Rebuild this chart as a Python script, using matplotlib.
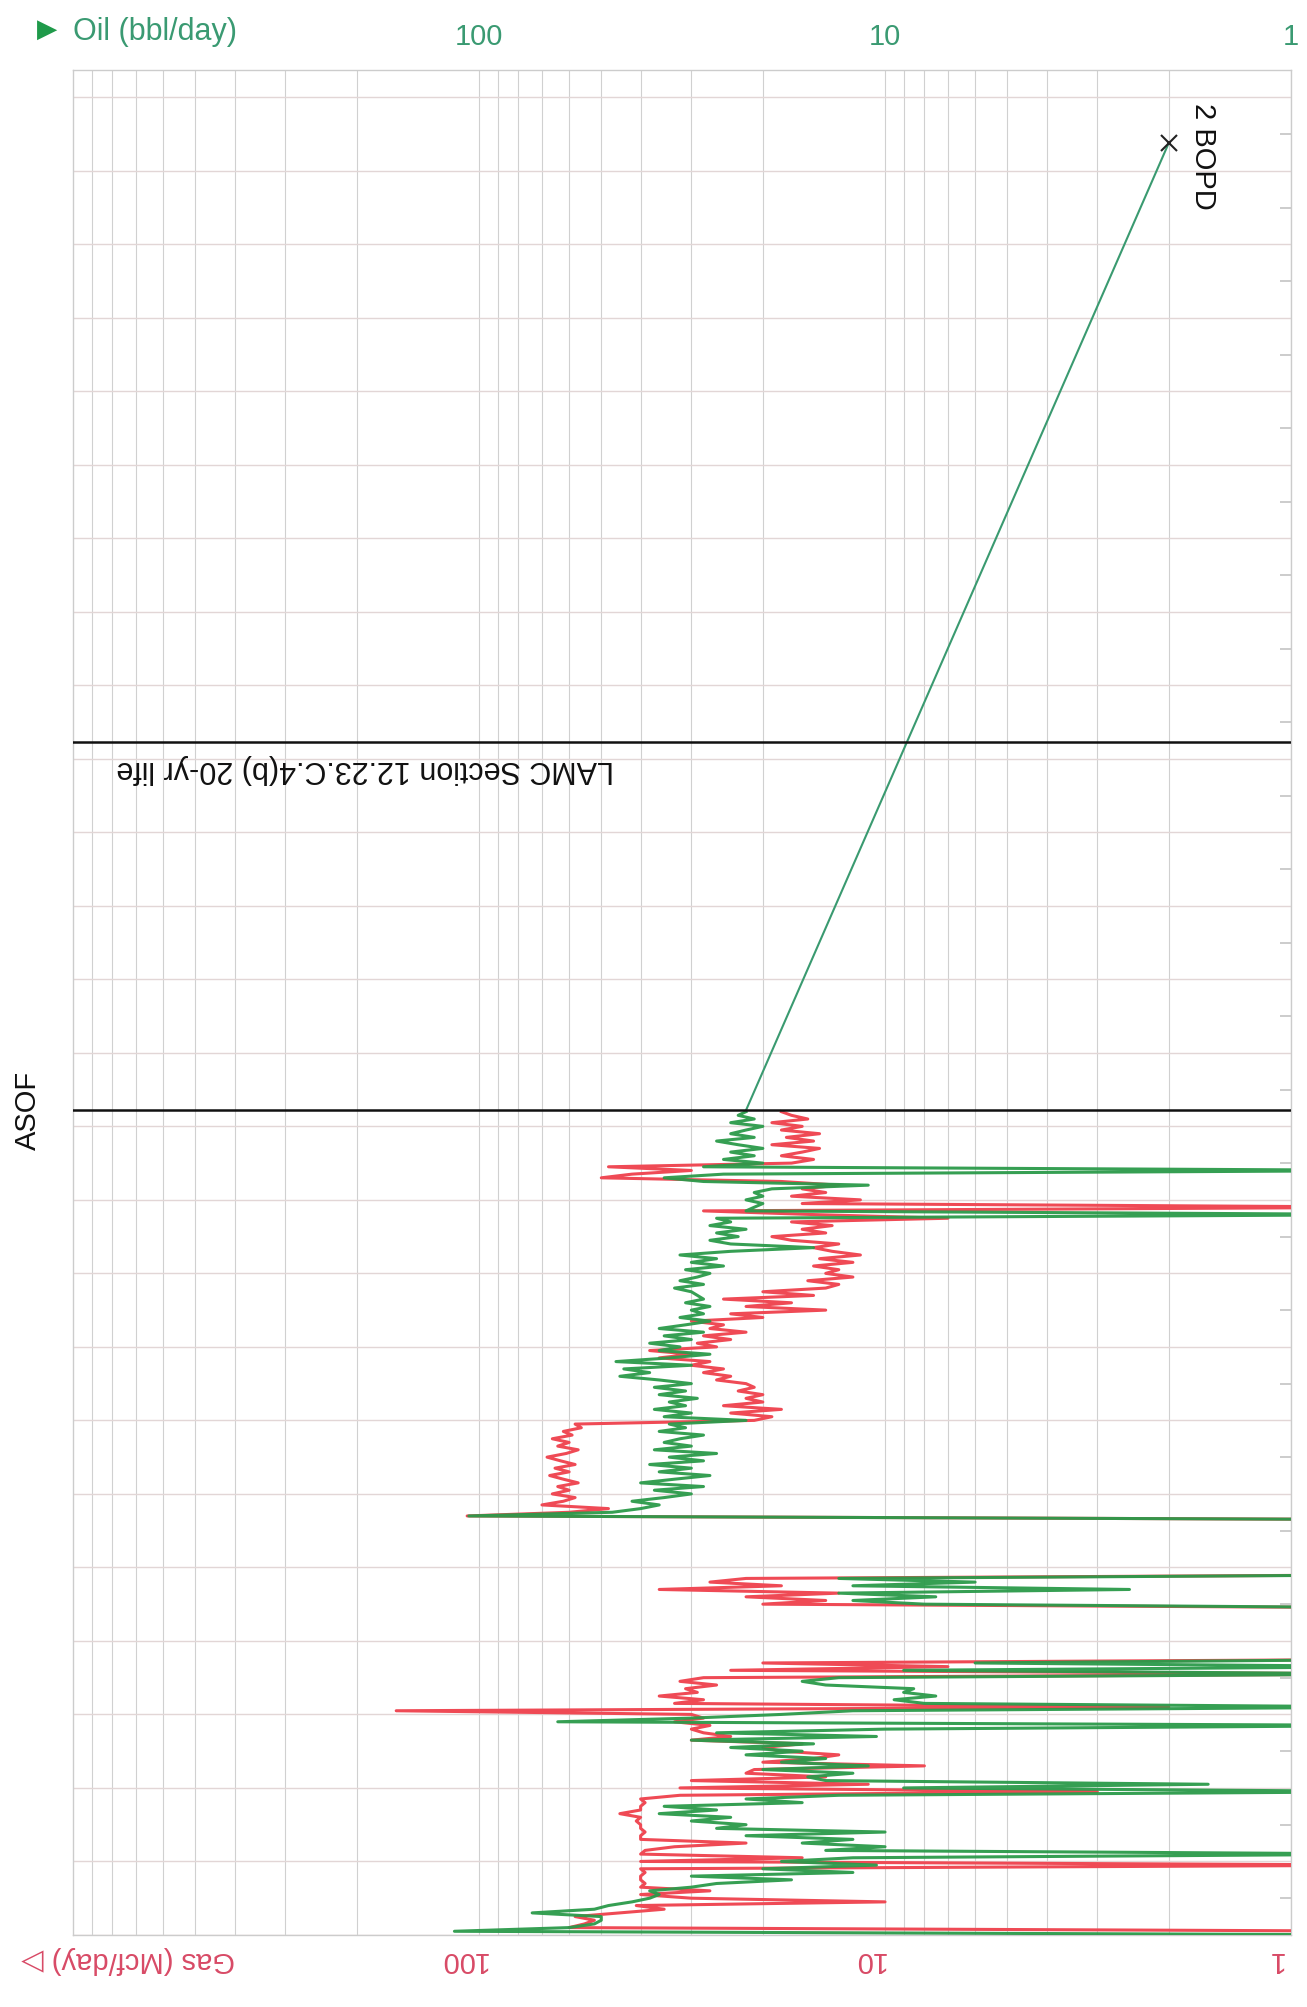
import numpy as np
import matplotlib.pyplot as plt
import matplotlib.transforms as mtransforms

# time in years from first production, sampled every 0.05 yr up to the ASOF date
t_hist = np.round(np.arange(0, 11.21, 0.05), 2)

# oil rate (bbl/day), 0 = shut in
oil_rate = [
    0, 115, 60, 52, 50, 50, 74, 52, 48, 42, 38, 36, 38, 30, 26, 17, 30, 12, 20, 10.5,
    18, 12, 0, 14, 10, 16, 12, 22, 10, 26, 22, 30, 24, 36, 26, 35, 16, 22, 13, 0,
    9, 1.6, 14, 15.5, 12, 20, 11, 18, 14, 22, 16, 24, 15, 30, 10.5, 26, 10, 0, 64, 30,
    18, 12, 0, 8, 9.5, 7.5, 9, 8.5, 14, 16, 13, 0, 9, 0, 6, 0, 0, 0, 0, 0,
    0, 0, 0, 0, 0, 0, 0, 0, 0, 0, 8, 12, 7.5, 13, 2.5, 12, 6, 13, 0, 0,
    0, 0, 0, 0, 0, 0, 0, 0, 0, 0, 0, 0, 0, 0, 106, 47, 40, 36, 42, 35,
    30, 37, 28, 40, 33, 27, 36, 30, 38, 28, 34, 26, 37, 30, 35, 32, 28, 36, 31, 34,
    22, 35, 30, 37, 31, 34, 29, 36, 31, 37, 30, 36, 45, 38, 44, 30, 46, 34, 27, 36,
    32, 38, 30, 35, 28, 36, 31, 27, 32, 28, 30, 27, 31, 28, 29, 30, 33, 28, 32, 29,
    27, 31, 25, 30, 26, 32, 24, 15, 24, 27, 23, 26, 22, 27, 24, 26, 0, 22, 21, 20,
    22, 20, 21, 19, 11, 28, 35, 25, 0, 28, 20, 25, 21, 24, 20, 23, 26, 21, 24, 22,
    20, 24, 21, 23, 22,
]

# gas rate (Mcf/day), 0 = shut in
gas_rate = [
    0, 0, 60, 55, 52, 58, 45, 35, 41, 10, 30, 40, 27, 40, 39, 40, 40, 39, 40, 0,
    40, 16, 40, 39, 33, 22, 40, 40, 39, 40, 40, 41, 40, 45, 40, 40, 39, 40, 32, 3,
    32, 11, 30, 14, 22, 21, 8, 20, 15, 13, 18, 20, 16, 30, 24, 28, 30, 27, 33, 28,
    30, 160, 2, 33, 28, 36, 29, 31, 26, 32, 28, 0, 24, 7, 20, 0, 0, 0, 0, 0,
    0, 0, 0, 0, 0, 0, 0, 0, 0, 0, 20, 14, 22, 13, 36, 18, 27, 22, 0, 0,
    0, 0, 0, 0, 0, 0, 0, 0, 0, 0, 0, 0, 0, 0, 107, 60, 48, 70, 62, 58,
    66, 60, 64, 57, 62, 67, 60, 65, 58, 63, 68, 61, 57, 64, 60, 66, 59, 62, 56, 58,
    21, 19, 24, 18, 25, 20, 22, 20, 23, 21, 22, 26, 24, 28, 25, 30, 27, 36, 30, 38,
    26, 29, 24, 28, 22, 27, 25, 30, 20, 24, 14, 22, 17, 25, 15, 20, 14, 13, 15.5, 12,
    14, 13, 15, 12, 14.5, 11.5, 13.5, 15, 13, 17, 19, 14, 16, 13.5, 17, 7, 15, 28, 0, 16,
    11.5, 17, 14, 16, 13, 18, 50, 42, 30, 48, 17, 15, 18, 16, 14.5, 19, 15, 17.5, 14.5, 18,
    16, 19, 15.5, 17, 18,
]

# forecast (exponential decline to economic limit)
forecast_t = [11.22, 24.38]
forecast_oil = [22, 2]

asof_t = 11.22
lamc_t = 16.23

oil_ticks = [100, 10, 1]
gas_ticks = [100, 10, 1]

green = '#2b9a4a'
red = '#ef4a55'
oil_txt = '#3a9a72'
gas_txt = '#d84a66'

plt.rcParams['font.family'] = ['Liberation Sans', 'DejaVu Sans']

fig = plt.figure(figsize=(13.07, 20.07), dpi=100)
ax = fig.add_axes([0.0559, 0.0359, 0.9319, 0.9292])

ax.set_xscale('log')
ax.set_xlim(1000, 1)
ax.set_ylim(0, 25.37)

# shut-in days drawn just off the right edge
oil_plot = np.where(np.array(oil_rate) > 0, oil_rate, 0.5)
gas_plot = np.where(np.array(gas_rate) > 0, gas_rate, 0.5)

ax.plot(gas_plot, t_hist, color=red, lw=2.2, zorder=3)
ax.plot(oil_plot, t_hist, color=green, lw=2.2, zorder=4, alpha=0.95)

ax.plot(forecast_oil, forecast_t, color='#3a9a70', lw=1.5, zorder=4)
ax.plot(forecast_oil[-1], forecast_t[-1], marker='x', color='#222222', ms=11, mew=1.5, zorder=5)

ax.axhline(asof_t, color='#111111', lw=1.8, zorder=5)
ax.axhline(lamc_t, color='#111111', lw=1.8, zorder=5)

# grid
ax.set_yticks(np.arange(0, 26, 1))
ax.set_yticks(np.arange(0.5, 25.5, 1), minor=True)
ax.grid(True, which='major', axis='y', color='#e2d6d6', lw=1.0)
ax.grid(True, which='both', axis='x', color='#d0d0d0', lw=0.8)
ax.tick_params(axis='y', which='major', length=0, labelleft=False)
ax.tick_params(axis='y', which='minor', direction='in', right=True, left=False,
               length=8, color='#c4c4c4', width=1.2)
ax.tick_params(axis='x', which='both', length=0)
ax.xaxis.set_ticks_position('top')
ax.set_xticks(oil_ticks)
ax.set_xticklabels([str(v) for v in oil_ticks], color=oil_txt, fontsize=21)
ax.tick_params(axis='x', which='major', pad=14, labeltop=True, labelbottom=False)
ax.xaxis.set_minor_formatter(plt.NullFormatter())
for s in ax.spines.values():
    s.set_color('#cccccc')
    s.set_linewidth(1.0)

# axis titles
fig.text(0.028, 0.985, '\u25B6', color='#1f9a4a', fontsize=19, va='center', ha='left',
         family=['DejaVu Sans'])
fig.text(0.056, 0.984, 'Oil (bbl/day)', color=oil_txt, fontsize=22, va='center', ha='left')

fig.text(0.098, 0.0234, 'Gas (Mcf/day) \u25B7', color=gas_txt, fontsize=21, va='center',
         ha='center', rotation=180)
bottom_tr = mtransforms.offset_copy(
    mtransforms.blended_transform_factory(ax.transData, fig.transFigure),
    fig=fig, x=-16, y=0, units='dots')
for v in gas_ticks:
    ax.text(v, 0.0234, str(v), color=gas_txt, fontsize=21, ha='center', va='center',
            rotation=180, transform=bottom_tr)

# annotations
left_tr = mtransforms.blended_transform_factory(fig.transFigure, ax.transData)
fig.text(0.0214, asof_t, 'ASOF', rotation=90, fontsize=21, ha='center', va='center',
         color='#111111', transform=left_tr)
ax.text(191, 15.86, 'LAMC Section 12.23.C.4(b) 20-yr life', rotation=180, fontsize=22,
        ha='center', va='center', color='#111111', zorder=6)
ax.text(1.65, 24.2, '2 BOPD', rotation=270, fontsize=21, ha='center', va='center',
        color='#111111', zorder=6)

fig.savefig('out.png', dpi=100)
